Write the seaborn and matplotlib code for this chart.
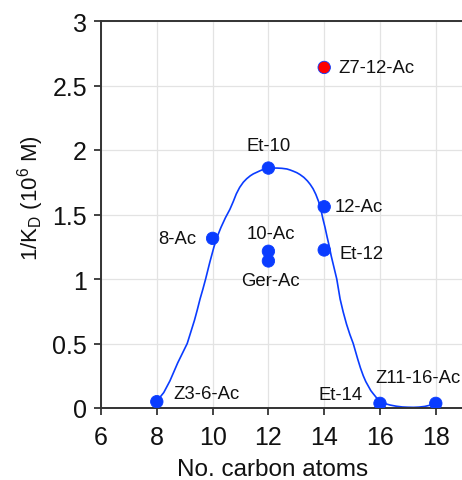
import matplotlib
matplotlib.use("Agg")
import matplotlib.pyplot as plt
import seaborn as sns
import pandas as pd

# Data
compounds = ["Z3-6-Ac", "8-Ac", "Et-10", "10-Ac", "Ger-Ac", "12-Ac", "Et-12", "Z7-12-Ac", "Et-14", "Z11-16-Ac"]
carbons = [8, 10, 12, 12, 12, 14, 14, 14, 16, 18]
inv_kd = [0.049, 1.315, 1.86, 1.215, 1.14, 1.56, 1.225, 2.64, 0.036, 0.036]
highlight = ["no", "no", "no", "no", "no", "no", "no", "yes", "no", "no"]

curve_x = [8.00, 8.12, 8.25, 8.36, 8.47, 8.61, 8.75, 8.92, 9.09, 9.22, 9.35, 9.45, 9.55, 9.65, 9.75,
           9.9, 10.05, 10.17, 10.3, 10.46, 10.62, 10.74, 10.85, 10.97, 11.1, 11.22, 11.35, 11.46,
           11.58, 11.7, 11.8, 11.9, 12.0, 12.15, 12.3, 12.48, 12.66, 12.78, 12.9, 13.02, 13.13,
           13.27, 13.4, 13.5, 13.6, 13.7, 13.8, 13.88, 13.95, 14.03, 14.1, 14.18, 14.25, 14.35,
           14.45, 14.57, 14.68, 14.8, 14.92, 15.04, 15.12, 15.2, 15.3, 15.4, 15.49, 15.58, 15.67,
           15.76, 15.88, 16.0, 16.18, 16.36, 16.58, 16.8, 17.0, 17.2, 17.4, 17.6, 17.8, 18.0]
curve_y = [0.05, 0.085, 0.12, 0.165, 0.21, 0.28, 0.35, 0.425, 0.50, 0.59, 0.68, 0.76, 0.845, 0.92, 1.00,
           1.13, 1.25, 1.33, 1.40, 1.475, 1.54, 1.60, 1.66, 1.71, 1.75, 1.777, 1.80, 1.815,
           1.827, 1.839, 1.848, 1.854, 1.858, 1.86, 1.86, 1.858, 1.853, 1.845, 1.835, 1.824, 1.81,
           1.788, 1.76, 1.733, 1.70, 1.656, 1.60, 1.54, 1.47, 1.40, 1.33, 1.255, 1.18, 1.09,
           1.00, 0.845, 0.745, 0.65, 0.57, 0.50, 0.44, 0.38, 0.31, 0.25, 0.205, 0.17, 0.135,
           0.11, 0.078, 0.05, 0.034, 0.023, 0.014, 0.008, 0.006, 0.005, 0.007, 0.012, 0.022, 0.036]

x_ticks = [6, 8, 10, 12, 14, 16, 18]
y_ticks = [0, 0.5, 1, 1.5, 2, 2.5, 3]
y_tick_labels = ["0", "0.5", "1", "1.5", "2", "2.5", "3"]

# label offsets in pixels (dx, dy) and alignment
label_style = {
    "Z3-6-Ac": (17, 8, "left", "center"),
    "8-Ac": (-16, 0, "right", "center"),
    "Et-10": (0, 14, "center", "bottom"),
    "10-Ac": (2, 9, "center", "bottom"),
    "Ger-Ac": (2, -11, "center", "top"),
    "12-Ac": (10, 0, "left", "center"),
    "Et-12": (15, -4, "left", "center"),
    "Z7-12-Ac": (14, 0, "left", "center"),
    "Et-14": (-17, 9, "right", "center"),
    "Z11-16-Ac": (-18, 26, "center", "center"),
}

sns.set_style("white")
plt.rcParams["font.family"] = ["Liberation Sans", "DejaVu Sans"]

df = pd.DataFrame({"compound": compounds, "carbons": carbons, "inv_kd": inv_kd, "hl": highlight})
cdf = pd.DataFrame({"x": curve_x, "y": curve_y})

fig = plt.figure(figsize=(4.62, 4.81), dpi=100)
ax = fig.add_axes([101 / 462, 72 / 481, 362.7 / 462, 387 / 481])

blue = "#0A3CFF"
sns.lineplot(data=cdf, x="x", y="y", ax=ax, color=blue, linewidth=1.2, sort=False,
             estimator=None, zorder=2, solid_joinstyle="round")
sns.scatterplot(data=df, x="carbons", y="inv_kd", hue="hl", palette={"no": blue, "yes": "#FF0000"},
                s=80, edgecolor=blue, linewidth=0.6, ax=ax, legend=False, zorder=3)

for name, xv, yv in zip(compounds, carbons, inv_kd):
    dx, dy, ha, va = label_style[name]
    ax.annotate(name, (xv, yv), xytext=(dx, dy), textcoords="offset pixels",
                ha=ha, va=va, fontsize=13.3, color="#111111")

ax.set_xlim(6, 19)
ax.set_ylim(0, 3)
ax.set_xticks(x_ticks)
ax.set_yticks(y_ticks)
ax.set_yticklabels(y_tick_labels)
ax.tick_params(axis="both", labelsize=18, colors="#222222", length=5, width=1.2, direction="out",
               pad=4)
ax.tick_params(axis="x", bottom=True, pad=7)
ax.tick_params(axis="y", left=True, pad=5)
for lab in ax.get_xticklabels() + ax.get_yticklabels():
    lab.set_color("#111111")
ax.grid(True, color="#e3e3e3", linewidth=0.9)
ax.set_axisbelow(True)
for side in ["left", "bottom", "top"]:
    ax.spines[side].set_color("#333333")
    ax.spines[side].set_linewidth(1.4)
ax.spines["right"].set_visible(False)

ax.set_xlabel("No. carbon atoms", fontsize=17.5, color="#111111", labelpad=6)
ax.xaxis.set_label_coords(0.474, -0.13)
ax.set_ylabel(r"1/K$_\mathregular{D}$ (10$^\mathregular{6}$ M)", fontsize=16, color="#111111")
ax.yaxis.set_label_coords(-0.151, 0.545)

fig.savefig("out.png", dpi=100)
